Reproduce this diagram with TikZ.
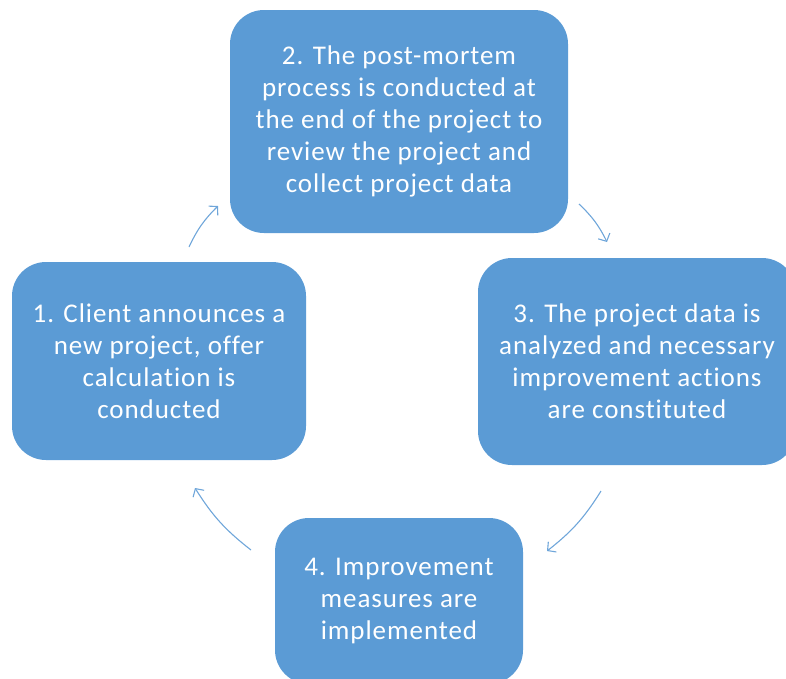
\documentclass[tikz,border=0pt]{standalone}
\usepackage{fontspec}
\setmainfont{Carlito}[LetterSpace=3.5, Ligatures={NoCommon}]
\usetikzlibrary{arrows.meta}
\definecolor{boxblue}{HTML}{5B9BD5}
\definecolor{arrowblue}{HTML}{6FA6DA}
\begin{document}
\begin{tikzpicture}[x=1pt,y=-1pt,
  stagebox/.style={draw=none, fill=boxblue, rounded corners=34pt, inner sep=0pt,
    align=center, text=white, font=\fontsize{27}{32}\selectfont},
  cycarrow/.style={draw=arrowblue, line width=1.1pt, bend left=10,
    -{Straight Barb[length=6pt,width=13pt,line width=1.1pt]}}]
  \useasboundingbox (0,0) rectangle (786,678);
  \clip (0,0) rectangle (786,678);
  % the four stages of the cycle
  \node[stagebox, minimum width=294pt, minimum height=198pt] (s1) at (159,361)
    {1. Client announces a\\new project, offer\\calculation is\\conducted};
  \node[stagebox, minimum width=338pt, minimum height=223pt] (s2) at (399,121.5)
    {2. The post-mortem\\process is conducted at\\the end of the project to\\review the project and\\collect project data};
  \node[stagebox, minimum width=318pt, minimum height=207pt] (s3) at (637,361.5)
    {3. The project data is\\analyzed and necessary\\improvement actions\\are constituted};
  \node[stagebox, minimum width=248pt, minimum height=166pt] (s4) at (399,601)
    {4. Improvement\\measures are\\implemented};
  % arrow end points between the stages
  \coordinate (a1s) at (189,247);
  \coordinate (a1e) at (218,206);
  \coordinate (a2s) at (579,204);
  \coordinate (a2e) at (607,242);
  \coordinate (a3s) at (601,491);
  \coordinate (a3e) at (547,551);
  \coordinate (a4s) at (251,550);
  \coordinate (a4e) at (195,488);
  \draw[cycarrow] (a1s) to (a1e);
  \draw[cycarrow] (a2s) to (a2e);
  \draw[cycarrow] (a3s) to (a3e);
  \draw[cycarrow] (a4s) to (a4e);
\end{tikzpicture}
\end{document}
